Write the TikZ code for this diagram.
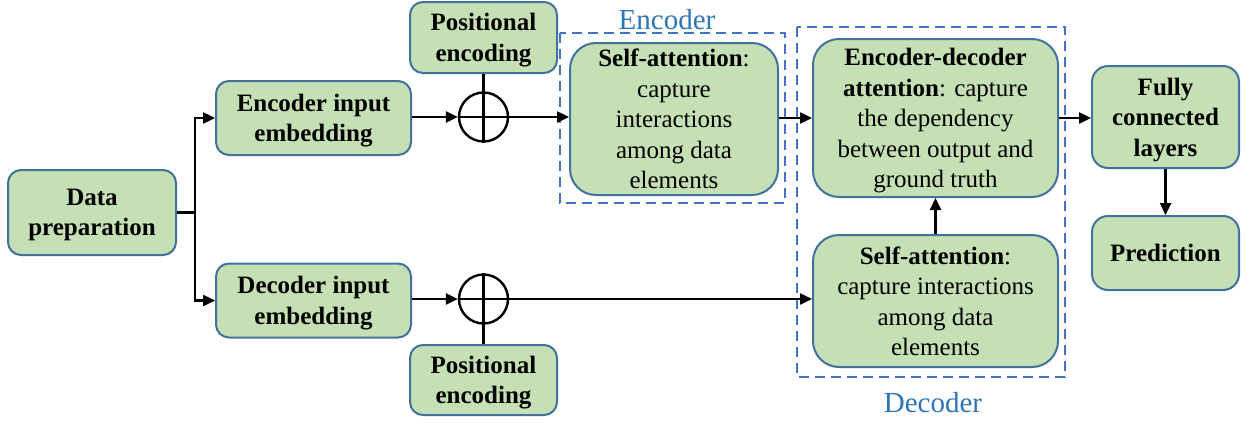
\documentclass[tikz,border=0pt]{standalone}
\usepackage{fontspec}
\setmainfont{Liberation Serif}
\usetikzlibrary{arrows.meta}
\definecolor{boxfill}{HTML}{C5E0B4}
\definecolor{boxline}{HTML}{41719C}
\definecolor{frameblue}{HTML}{4472C4}
\definecolor{labelblue}{HTML}{2E75B6}
\tikzset{
  block/.style={draw=boxline, fill=boxfill, line width=2pt, rounded corners=13pt,
    inner sep=0pt, align=center, text depth=0pt, font=\fontsize{25}{30.5}\selectfont},
  bigblock/.style={block, rounded corners=26pt},
  sumnode/.style={circle, draw, line width=2.4pt, minimum size=49pt, inner sep=0pt},
  link/.style={line width=2.4pt},
  flow/.style={link, -{Triangle[length=12pt,width=11pt]}},
  groupframe/.style={draw=frameblue, line width=2.6pt, dash pattern=on 10pt off 6pt},
  grouplabel/.style={text=labelblue, font=\fontsize{29}{34}\selectfont, inner sep=0pt}
}
\begin{document}
\begin{tikzpicture}[x=1pt, y=-1pt]
\useasboundingbox (0,0) rectangle (1247,423);

% group frames
\draw[groupframe] (560,33) rectangle (785,203);
\draw[groupframe] (797,27) rectangle (1065,377);
\node[grouplabel] (enclabel) at (667,20) {Encoder};
\node[grouplabel] (declabel) at (933,403) {Decoder};

% blocks
\node[block, minimum width=168pt, minimum height=85pt] (prep) at (92,212.5)
  {\textbf{Data}\\\textbf{preparation}};
\node[block, minimum width=195pt, minimum height=74pt] (encin) at (313.5,118)
  {\textbf{Encoder input}\\\textbf{embedding}};
\node[block, minimum width=195pt, minimum height=74pt] (decin) at (313.5,300.5)
  {\textbf{Decoder input}\\\textbf{embedding}};
\node[block, minimum width=147pt, minimum height=71pt] (pe1) at (483.5,37.5)
  {\textbf{Positional}\\\textbf{encoding}};
\node[block, minimum width=147pt, minimum height=70pt] (pe2) at (483.5,380)
  {\textbf{Positional}\\\textbf{encoding}};
\node[bigblock, minimum width=208pt, minimum height=152pt] (encsa) at (674,119)
  {\textbf{Self-attention}:\\capture\\interactions\\among data\\elements};
\node[bigblock, minimum width=245pt, minimum height=158pt] (encdec) at (935.5,118)
  {\textbf{Encoder-decoder}\\\textbf{attention}: capture\\the dependency\\between output and\\ground truth};
\node[bigblock, minimum width=245pt, minimum height=132pt] (decsa) at (935.5,301)
  {\textbf{Self-attention}:\\capture interactions\\among data\\elements};
\node[block, minimum width=147pt, minimum height=102pt, rounded corners=16pt] (fc) at (1165.5,117)
  {\textbf{Fully}\\\textbf{connected}\\\textbf{layers}};
\node[block, minimum width=147pt, minimum height=74pt, rounded corners=16pt] (pred) at (1165.5,253)
  {\textbf{Prediction}};

% summation nodes
\node[sumnode] (sum1) at (483.5,117) {};
\node[sumnode] (sum2) at (483.5,299) {};
\draw[link] (sum1.north) -- (sum1.south) (sum1.west) -- (sum1.east);
\draw[link] (sum2.north) -- (sum2.south) (sum2.west) -- (sum2.east);

% connectors
\coordinate (br) at (195,212.5);
\draw[link] (prep.east) -- (br);
\draw[flow] (br) |- (encin.west);
\draw[flow] (br) |- (decin.west);
\draw[flow] (encin.east |- sum1) -- (sum1.west);
\draw[flow] (decin.east |- sum2) -- (sum2.west);
\draw[link] (pe1.south) -- (sum1.north);
\draw[link] (pe2.north) -- (sum2.south);
\draw[flow] (sum1.east) -- (encsa.west |- sum1);
\draw[flow] (sum2.east) -- (decsa.west |- sum2);
\draw[flow] (encsa.east |- encdec) -- (encdec.west);
\draw[flow] (decsa.north) -- (encdec.south);
\draw[flow] (encdec.east) -- (fc.west |- encdec);
\draw[flow] (fc.south) -- (pred.north);
\end{tikzpicture}
\end{document}
